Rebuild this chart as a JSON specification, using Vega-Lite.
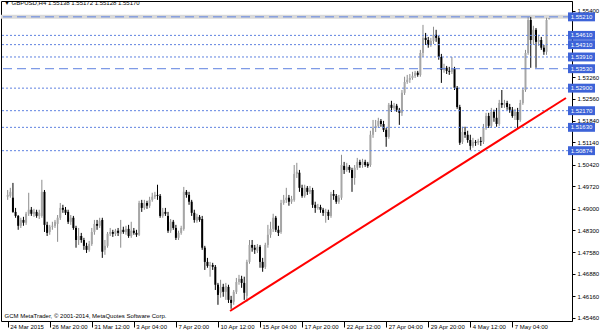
{
"$schema": "https://vega.github.io/schema/vega-lite/v6.json",
"width": 571,
"height": 320,
"autosize": {"type": "none"},
"padding": {"left": 1, "top": 1, "right": 28, "bottom": 12},
"background": "#ffffff",
"title": {"text": "▼ GBPUSD,H4  1.55138 1.55172 1.55128 1.55170", "anchor": "start", "frame": "group", "orient": "top", "offset": -10, "dx": 3, "fontSize": 6, "fontWeight": "normal", "font": "Liberation Sans", "color": "#000000", "baseline": "alphabetic"},
"datasets": {
"candles": [
{"i":0,"o":1.4938,"h":1.4960,"l":1.4928,"c":1.4944},
{"i":1,"o":1.4941,"h":1.4967,"l":1.4935,"c":1.4954},
{"i":2,"o":1.4935,"h":1.4983,"l":1.4886,"c":1.4889},
{"i":3,"o":1.4889,"h":1.4902,"l":1.4870,"c":1.4876},
{"i":4,"o":1.4876,"h":1.4879,"l":1.4831,"c":1.4844},
{"i":5,"o":1.4844,"h":1.4870,"l":1.4837,"c":1.4863},
{"i":6,"o":1.4863,"h":1.4873,"l":1.4844,"c":1.4854},
{"i":7,"o":1.4854,"h":1.4889,"l":1.4847,"c":1.4883},
{"i":8,"o":1.4883,"h":1.4951,"l":1.4876,"c":1.4896},
{"i":9,"o":1.4896,"h":1.4905,"l":1.4876,"c":1.4883},
{"i":10,"o":1.4883,"h":1.4899,"l":1.4873,"c":1.4889},
{"i":11,"o":1.4889,"h":1.4896,"l":1.4870,"c":1.4876},
{"i":12,"o":1.4876,"h":1.4896,"l":1.4866,"c":1.4886},
{"i":13,"o":1.4876,"h":1.4993,"l":1.4870,"c":1.4954},
{"i":14,"o":1.4954,"h":1.4960,"l":1.4824,"c":1.4847},
{"i":15,"o":1.4847,"h":1.4857,"l":1.4811,"c":1.4821},
{"i":16,"o":1.4824,"h":1.4847,"l":1.4815,"c":1.4841},
{"i":17,"o":1.4841,"h":1.4857,"l":1.4831,"c":1.4844},
{"i":18,"o":1.4844,"h":1.4863,"l":1.4837,"c":1.4857},
{"i":19,"o":1.4850,"h":1.4879,"l":1.4792,"c":1.4870},
{"i":20,"o":1.4870,"h":1.4918,"l":1.4863,"c":1.4902},
{"i":21,"o":1.4902,"h":1.4912,"l":1.4886,"c":1.4896},
{"i":22,"o":1.4896,"h":1.4905,"l":1.4879,"c":1.4886},
{"i":23,"o":1.4889,"h":1.4896,"l":1.4850,"c":1.4857},
{"i":24,"o":1.4857,"h":1.4879,"l":1.4847,"c":1.4870},
{"i":25,"o":1.4870,"h":1.4876,"l":1.4831,"c":1.4837},
{"i":26,"o":1.4837,"h":1.4844,"l":1.4773,"c":1.4798},
{"i":27,"o":1.4798,"h":1.4837,"l":1.4782,"c":1.4811},
{"i":28,"o":1.4811,"h":1.4821,"l":1.4789,"c":1.4798},
{"i":29,"o":1.4798,"h":1.4805,"l":1.4766,"c":1.4779},
{"i":30,"o":1.4779,"h":1.4789,"l":1.4756,"c":1.4766},
{"i":31,"o":1.4766,"h":1.4795,"l":1.4760,"c":1.4785},
{"i":32,"o":1.4785,"h":1.4837,"l":1.4779,"c":1.4824},
{"i":33,"o":1.4824,"h":1.4863,"l":1.4815,"c":1.4850},
{"i":34,"o":1.4850,"h":1.4863,"l":1.4831,"c":1.4844},
{"i":35,"o":1.4844,"h":1.4870,"l":1.4837,"c":1.4860},
{"i":36,"o":1.4863,"h":1.4870,"l":1.4740,"c":1.4760},
{"i":37,"o":1.4766,"h":1.4798,"l":1.4750,"c":1.4779},
{"i":38,"o":1.4779,"h":1.4824,"l":1.4773,"c":1.4818},
{"i":39,"o":1.4818,"h":1.4837,"l":1.4811,"c":1.4824},
{"i":40,"o":1.4824,"h":1.4831,"l":1.4808,"c":1.4818},
{"i":41,"o":1.4818,"h":1.4834,"l":1.4811,"c":1.4828},
{"i":42,"o":1.4828,"h":1.4837,"l":1.4811,"c":1.4821},
{"i":43,"o":1.4818,"h":1.4863,"l":1.4773,"c":1.4831},
{"i":44,"o":1.4831,"h":1.4841,"l":1.4818,"c":1.4824},
{"i":45,"o":1.4824,"h":1.4844,"l":1.4815,"c":1.4834},
{"i":46,"o":1.4834,"h":1.4847,"l":1.4805,"c":1.4811},
{"i":47,"o":1.4811,"h":1.4857,"l":1.4805,"c":1.4828},
{"i":48,"o":1.4828,"h":1.4837,"l":1.4815,"c":1.4821},
{"i":49,"o":1.4821,"h":1.4831,"l":1.4808,"c":1.4815},
{"i":50,"o":1.4815,"h":1.4925,"l":1.4811,"c":1.4918},
{"i":51,"o":1.4918,"h":1.4928,"l":1.4889,"c":1.4902},
{"i":52,"o":1.4902,"h":1.4928,"l":1.4896,"c":1.4918},
{"i":53,"o":1.4918,"h":1.4925,"l":1.4899,"c":1.4909},
{"i":54,"o":1.4909,"h":1.4938,"l":1.4902,"c":1.4928},
{"i":55,"o":1.4928,"h":1.4951,"l":1.4922,"c":1.4938},
{"i":56,"o":1.4938,"h":1.4954,"l":1.4931,"c":1.4944},
{"i":57,"o":1.4944,"h":1.4977,"l":1.4928,"c":1.4941},
{"i":58,"o":1.4941,"h":1.4947,"l":1.4870,"c":1.4876},
{"i":59,"o":1.4876,"h":1.4902,"l":1.4870,"c":1.4889},
{"i":60,"o":1.4889,"h":1.4902,"l":1.4876,"c":1.4883},
{"i":61,"o":1.4876,"h":1.4889,"l":1.4821,"c":1.4828},
{"i":62,"o":1.4828,"h":1.4866,"l":1.4821,"c":1.4857},
{"i":63,"o":1.4857,"h":1.4863,"l":1.4831,"c":1.4837},
{"i":64,"o":1.4837,"h":1.4847,"l":1.4798,"c":1.4805},
{"i":65,"o":1.4805,"h":1.4828,"l":1.4798,"c":1.4821},
{"i":66,"o":1.4821,"h":1.4844,"l":1.4815,"c":1.4837},
{"i":67,"o":1.4834,"h":1.4970,"l":1.4828,"c":1.4954},
{"i":68,"o":1.4954,"h":1.4960,"l":1.4935,"c":1.4944},
{"i":69,"o":1.4944,"h":1.4954,"l":1.4912,"c":1.4922},
{"i":70,"o":1.4922,"h":1.4928,"l":1.4876,"c":1.4886},
{"i":71,"o":1.4886,"h":1.4896,"l":1.4854,"c":1.4863},
{"i":72,"o":1.4860,"h":1.4883,"l":1.4854,"c":1.4873},
{"i":73,"o":1.4873,"h":1.4879,"l":1.4857,"c":1.4863},
{"i":74,"o":1.4866,"h":1.4876,"l":1.4766,"c":1.4773},
{"i":75,"o":1.4773,"h":1.4779,"l":1.4701,"c":1.4727},
{"i":76,"o":1.4727,"h":1.4740,"l":1.4708,"c":1.4714},
{"i":77,"o":1.4714,"h":1.4727,"l":1.4679,"c":1.4717},
{"i":78,"o":1.4717,"h":1.4724,"l":1.4701,"c":1.4711},
{"i":79,"o":1.4711,"h":1.4717,"l":1.4636,"c":1.4653},
{"i":80,"o":1.4653,"h":1.4659,"l":1.4588,"c":1.4620},
{"i":81,"o":1.4627,"h":1.4669,"l":1.4611,"c":1.4646},
{"i":82,"o":1.4646,"h":1.4656,"l":1.4614,"c":1.4630},
{"i":83,"o":1.4630,"h":1.4659,"l":1.4604,"c":1.4649},
{"i":84,"o":1.4646,"h":1.4653,"l":1.4594,"c":1.4604},
{"i":85,"o":1.4604,"h":1.4617,"l":1.4575,"c":1.4594},
{"i":86,"o":1.4598,"h":1.4636,"l":1.4588,"c":1.4630},
{"i":87,"o":1.4630,"h":1.4675,"l":1.4623,"c":1.4662},
{"i":88,"o":1.4662,"h":1.4685,"l":1.4653,"c":1.4672},
{"i":89,"o":1.4672,"h":1.4682,"l":1.4643,"c":1.4659},
{"i":90,"o":1.4659,"h":1.4679,"l":1.4604,"c":1.4627},
{"i":91,"o":1.4617,"h":1.4734,"l":1.4598,"c":1.4727},
{"i":92,"o":1.4727,"h":1.4798,"l":1.4721,"c":1.4782},
{"i":93,"o":1.4782,"h":1.4798,"l":1.4760,"c":1.4773},
{"i":94,"o":1.4773,"h":1.4782,"l":1.4753,"c":1.4766},
{"i":95,"o":1.4763,"h":1.4785,"l":1.4756,"c":1.4776},
{"i":96,"o":1.4776,"h":1.4782,"l":1.4708,"c":1.4727},
{"i":97,"o":1.4727,"h":1.4740,"l":1.4695,"c":1.4708},
{"i":98,"o":1.4711,"h":1.4789,"l":1.4704,"c":1.4782},
{"i":99,"o":1.4782,"h":1.4847,"l":1.4773,"c":1.4815},
{"i":100,"o":1.4815,"h":1.4857,"l":1.4805,"c":1.4834},
{"i":101,"o":1.4834,"h":1.4883,"l":1.4824,"c":1.4870},
{"i":102,"o":1.4870,"h":1.4876,"l":1.4824,"c":1.4831},
{"i":103,"o":1.4831,"h":1.4844,"l":1.4811,"c":1.4821},
{"i":104,"o":1.4824,"h":1.4928,"l":1.4818,"c":1.4918},
{"i":105,"o":1.4918,"h":1.4944,"l":1.4912,"c":1.4928},
{"i":106,"o":1.4928,"h":1.4967,"l":1.4918,"c":1.4935},
{"i":107,"o":1.4935,"h":1.4944,"l":1.4909,"c":1.4922},
{"i":108,"o":1.4922,"h":1.4941,"l":1.4915,"c":1.4931},
{"i":109,"o":1.4928,"h":1.5041,"l":1.4922,"c":1.5012},
{"i":110,"o":1.5012,"h":1.5048,"l":1.4999,"c":1.5019},
{"i":111,"o":1.5016,"h":1.5025,"l":1.4954,"c":1.4967},
{"i":112,"o":1.4967,"h":1.4977,"l":1.4935,"c":1.4941},
{"i":113,"o":1.4941,"h":1.4977,"l":1.4935,"c":1.4967},
{"i":114,"o":1.4967,"h":1.4973,"l":1.4944,"c":1.4954},
{"i":115,"o":1.4954,"h":1.4973,"l":1.4947,"c":1.4960},
{"i":116,"o":1.4960,"h":1.4967,"l":1.4902,"c":1.4912},
{"i":117,"o":1.4912,"h":1.4922,"l":1.4886,"c":1.4902},
{"i":118,"o":1.4902,"h":1.4915,"l":1.4896,"c":1.4905},
{"i":119,"o":1.4905,"h":1.4912,"l":1.4886,"c":1.4896},
{"i":120,"o":1.4896,"h":1.4902,"l":1.4876,"c":1.4886},
{"i":121,"o":1.4886,"h":1.4899,"l":1.4854,"c":1.4889},
{"i":122,"o":1.4889,"h":1.4896,"l":1.4863,"c":1.4876},
{"i":123,"o":1.4876,"h":1.4954,"l":1.4870,"c":1.4947},
{"i":124,"o":1.4947,"h":1.4960,"l":1.4928,"c":1.4941},
{"i":125,"o":1.4941,"h":1.4947,"l":1.4915,"c":1.4922},
{"i":126,"o":1.4922,"h":1.4944,"l":1.4915,"c":1.4935},
{"i":127,"o":1.4935,"h":1.5074,"l":1.4928,"c":1.5041},
{"i":128,"o":1.5038,"h":1.5051,"l":1.5012,"c":1.5025},
{"i":129,"o":1.5025,"h":1.5048,"l":1.5019,"c":1.5035},
{"i":130,"o":1.5035,"h":1.5041,"l":1.5016,"c":1.5025},
{"i":131,"o":1.5025,"h":1.5032,"l":1.4954,"c":1.4999},
{"i":132,"o":1.4999,"h":1.5041,"l":1.4977,"c":1.5032},
{"i":133,"o":1.5032,"h":1.5064,"l":1.5025,"c":1.5051},
{"i":134,"o":1.5051,"h":1.5058,"l":1.5032,"c":1.5041},
{"i":135,"o":1.5041,"h":1.5061,"l":1.5032,"c":1.5051},
{"i":136,"o":1.5051,"h":1.5058,"l":1.5035,"c":1.5041},
{"i":137,"o":1.5045,"h":1.5051,"l":1.5032,"c":1.5038},
{"i":138,"o":1.5041,"h":1.5152,"l":1.5035,"c":1.5139},
{"i":139,"o":1.5139,"h":1.5187,"l":1.5129,"c":1.5161},
{"i":140,"o":1.5161,"h":1.5187,"l":1.5148,"c":1.5168},
{"i":141,"o":1.5168,"h":1.5194,"l":1.5161,"c":1.5184},
{"i":142,"o":1.5184,"h":1.5190,"l":1.5165,"c":1.5174},
{"i":143,"o":1.5174,"h":1.5184,"l":1.5148,"c":1.5155},
{"i":144,"o":1.5155,"h":1.5161,"l":1.5100,"c":1.5132},
{"i":145,"o":1.5132,"h":1.5242,"l":1.5126,"c":1.5236},
{"i":146,"o":1.5236,"h":1.5249,"l":1.5213,"c":1.5226},
{"i":147,"o":1.5226,"h":1.5242,"l":1.5220,"c":1.5233},
{"i":148,"o":1.5233,"h":1.5239,"l":1.5213,"c":1.5220},
{"i":149,"o":1.5220,"h":1.5226,"l":1.5171,"c":1.5210},
{"i":150,"o":1.5210,"h":1.5284,"l":1.5200,"c":1.5275},
{"i":151,"o":1.5275,"h":1.5327,"l":1.5268,"c":1.5310},
{"i":152,"o":1.5310,"h":1.5333,"l":1.5304,"c":1.5317},
{"i":153,"o":1.5317,"h":1.5336,"l":1.5307,"c":1.5323},
{"i":154,"o":1.5323,"h":1.5343,"l":1.5317,"c":1.5330},
{"i":155,"o":1.5330,"h":1.5346,"l":1.5323,"c":1.5340},
{"i":156,"o":1.5340,"h":1.5346,"l":1.5327,"c":1.5333},
{"i":157,"o":1.5333,"h":1.5414,"l":1.5327,"c":1.5404},
{"i":158,"o":1.5404,"h":1.5495,"l":1.5391,"c":1.5453},
{"i":159,"o":1.5453,"h":1.5469,"l":1.5430,"c":1.5446},
{"i":160,"o":1.5446,"h":1.5456,"l":1.5421,"c":1.5430},
{"i":161,"o":1.5430,"h":1.5453,"l":1.5424,"c":1.5443},
{"i":162,"o":1.5443,"h":1.5489,"l":1.5433,"c":1.5463},
{"i":163,"o":1.5463,"h":1.5479,"l":1.5440,"c":1.5453},
{"i":164,"o":1.5453,"h":1.5459,"l":1.5382,"c":1.5391},
{"i":165,"o":1.5391,"h":1.5401,"l":1.5307,"c":1.5349},
{"i":166,"o":1.5349,"h":1.5369,"l":1.5340,"c":1.5356},
{"i":167,"o":1.5356,"h":1.5362,"l":1.5336,"c":1.5346},
{"i":168,"o":1.5346,"h":1.5359,"l":1.5333,"c":1.5343},
{"i":169,"o":1.5343,"h":1.5391,"l":1.5336,"c":1.5352},
{"i":170,"o":1.5352,"h":1.5359,"l":1.5284,"c":1.5291},
{"i":171,"o":1.5291,"h":1.5297,"l":1.5223,"c":1.5229},
{"i":172,"o":1.5229,"h":1.5236,"l":1.5106,"c":1.5113},
{"i":173,"o":1.5116,"h":1.5165,"l":1.5109,"c":1.5148},
{"i":174,"o":1.5148,"h":1.5165,"l":1.5129,"c":1.5139},
{"i":175,"o":1.5139,"h":1.5152,"l":1.5113,"c":1.5122},
{"i":176,"o":1.5122,"h":1.5139,"l":1.5090,"c":1.5103},
{"i":177,"o":1.5103,"h":1.5129,"l":1.5097,"c":1.5116},
{"i":178,"o":1.5116,"h":1.5122,"l":1.5103,"c":1.5113},
{"i":179,"o":1.5113,"h":1.5126,"l":1.5106,"c":1.5119},
{"i":180,"o":1.5119,"h":1.5132,"l":1.5103,"c":1.5116},
{"i":181,"o":1.5116,"h":1.5174,"l":1.5109,"c":1.5161},
{"i":182,"o":1.5161,"h":1.5210,"l":1.5155,"c":1.5200},
{"i":183,"o":1.5200,"h":1.5210,"l":1.5161,"c":1.5168},
{"i":184,"o":1.5168,"h":1.5226,"l":1.5161,"c":1.5213},
{"i":185,"o":1.5213,"h":1.5220,"l":1.5181,"c":1.5194},
{"i":186,"o":1.5194,"h":1.5226,"l":1.5165,"c":1.5174},
{"i":187,"o":1.5174,"h":1.5252,"l":1.5168,"c":1.5242},
{"i":188,"o":1.5242,"h":1.5284,"l":1.5226,"c":1.5236},
{"i":189,"o":1.5236,"h":1.5252,"l":1.5226,"c":1.5242},
{"i":190,"o":1.5242,"h":1.5249,"l":1.5220,"c":1.5229},
{"i":191,"o":1.5229,"h":1.5239,"l":1.5210,"c":1.5220},
{"i":192,"o":1.5220,"h":1.5229,"l":1.5194,"c":1.5200},
{"i":193,"o":1.5200,"h":1.5223,"l":1.5187,"c":1.5213},
{"i":194,"o":1.5213,"h":1.5226,"l":1.5161,"c":1.5187},
{"i":195,"o":1.5187,"h":1.5252,"l":1.5181,"c":1.5242},
{"i":196,"o":1.5242,"h":1.5291,"l":1.5236,"c":1.5284},
{"i":197,"o":1.5284,"h":1.5414,"l":1.5278,"c":1.5404},
{"i":198,"o":1.5404,"h":1.5521,"l":1.5398,"c":1.5511},
{"i":199,"o":1.5511,"h":1.5521,"l":1.5356,"c":1.5446},
{"i":200,"o":1.5446,"h":1.5492,"l":1.5430,"c":1.5479},
{"i":201,"o":1.5479,"h":1.5485,"l":1.5356,"c":1.5440},
{"i":202,"o":1.5440,"h":1.5463,"l":1.5427,"c":1.5446},
{"i":203,"o":1.5446,"h":1.5456,"l":1.5414,"c":1.5421},
{"i":204,"o":1.5421,"h":1.5430,"l":1.5398,"c":1.5408},
{"i":205,"o":1.5408,"h":1.5518,"l":1.5398,"c":1.5511},
{"i":206,"o":1.55138,"h":1.55172,"l":1.55128,"c":1.55170}
],
"band": [{"p": 1.5521}],
"dashed": [{"p": 1.5521}, {"p": 1.5353}],
"dotted": [{"p": 1.5461}, {"p": 1.5431}, {"p": 1.5391}, {"p": 1.5290}, {"p": 1.5217}, {"p": 1.5163}, {"p": 1.50874}],
"levels": [{"p": 1.5521}, {"p": 1.5461}, {"p": 1.5431}, {"p": 1.5391}, {"p": 1.5353}, {"p": 1.5290}, {"p": 1.5217}, {"p": 1.5163}, {"p": 1.50874}],
"trend": [{"i": 84.6, "p": 1.4568}, {"i": 212.4, "p": 1.5258}]
},
"layer": [
{
"data": {"name": "band"},
"mark": {"type": "rule", "color": "#d9d9d9", "strokeWidth": 4},
"encoding": {"y": {"field": "p", "type": "quantitative"}}
},
{
"data": {"name": "candles"},
"mark": {"type": "rule", "strokeWidth": 1},
"encoding": {
"x": {"field": "i", "type": "quantitative", "scale": {"domain": [-0.64, 212.79], "nice": false, "zero": false},
"axis": {"values": [0,16,32,48,64,80,96,112,128,144,160,176,192], "tickCount": 30,
"labelExpr": "['24 Mar 2015','26 Mar 20:00','31 Mar 12:00','3 Apr 04:00','7 Apr 20:00','10 Apr 12:00','15 Apr 04:00','17 Apr 20:00','22 Apr 12:00','27 Apr 04:00','29 Apr 20:00','4 May 12:00','7 May 04:00'][round(datum.value/16)]",
"labelAlign": "left", "labelBaseline": "middle", "labelPadding": -1, "labelOffset": 2, "tickSize": 6, "tickColor": "#000000", "domain": false, "grid": false,
"labelFontSize": 6, "labelColor": "#000000", "labelFont": "Liberation Sans", "labelFlush": false, "labelOverlap": false,
"title": "GCM MetaTrader, © 2001-2014, MetaQuotes Software Corp.", "titleX": 3, "titleY": -3, "titleAlign": "left", "titleAnchor": "start", "titleBaseline": "bottom", "titleFontSize": 6, "titleFontWeight": "normal", "titleColor": "#000000", "titleFont": "Liberation Sans"}},
"y": {"field": "l", "type": "quantitative", "scale": {"domain": [1.45355, 1.55724], "nice": false, "zero": false},
"axis": {"orient": "right", "values": [1.554, 1.5326, 1.5256, 1.5184, 1.5114, 1.5042, 1.4972, 1.49, 1.483, 1.4758, 1.4688, 1.4616, 1.4546], "tickCount": 30,
"format": ".5f", "labelAlign": "left", "labelBaseline": "middle", "labelPadding": 2, "tickSize": 3, "tickColor": "#000000", "domain": true, "domainColor": "#000000", "grid": false,
"labelFontSize": 6, "labelColor": "#000000", "labelFont": "Liberation Sans", "labelFlush": false, "labelOverlap": false, "title": null}},
"y2": {"field": "h"},
"color": {"condition": {"test": "datum.c >= datum.o", "value": "#8c8c8c"}, "value": "#000000"}
}
},
{
"data": {"name": "candles"},
"mark": {"type": "bar", "size": 2},
"encoding": {
"x": {"field": "i", "type": "quantitative"},
"y": {"field": "o", "type": "quantitative"},
"y2": {"field": "c"},
"color": {"condition": {"test": "datum.c >= datum.o", "value": "#a6a6a6"}, "value": "#000000"}
}
},
{
"data": {"name": "dashed"},
"mark": {"type": "rule", "color": "#5f82e0", "strokeWidth": 1, "strokeDash": [9, 5]},
"encoding": {"y": {"field": "p", "type": "quantitative"}}
},
{
"data": {"name": "dotted"},
"mark": {"type": "rule", "color": "#5f82e0", "strokeWidth": 1, "strokeDash": [2, 2]},
"encoding": {"y": {"field": "p", "type": "quantitative"}}
},
{
"data": {"name": "trend"},
"mark": {"type": "line", "color": "#ff0000", "strokeWidth": 2},
"encoding": {"x": {"field": "i", "type": "quantitative"}, "y": {"field": "p", "type": "quantitative"}}
},
{
"data": {"name": "levels"},
"mark": {"type": "point", "shape": "M-1,-0.33H1V0.33H-1Z", "size": 729, "filled": true, "opacity": 1, "color": "#3d63d8", "strokeWidth": 0},
"encoding": {"x": {"datum": 218.3, "type": "quantitative"}, "y": {"field": "p", "type": "quantitative"}}
},
{
"data": {"name": "levels"},
"mark": {"type": "text", "fontSize": 6, "font": "Liberation Sans", "color": "#ffffff", "align": "center", "baseline": "middle"},
"encoding": {"x": {"datum": 218.3, "type": "quantitative"}, "y": {"field": "p", "type": "quantitative"}, "text": {"field": "p", "type": "quantitative", "format": ".5f"}}
}
],
"config": {"view": {"stroke": "#000000", "strokeWidth": 1}, "font": "Liberation Sans", "axis": {"labelOverlap": false, "labelFlush": false}}
}
